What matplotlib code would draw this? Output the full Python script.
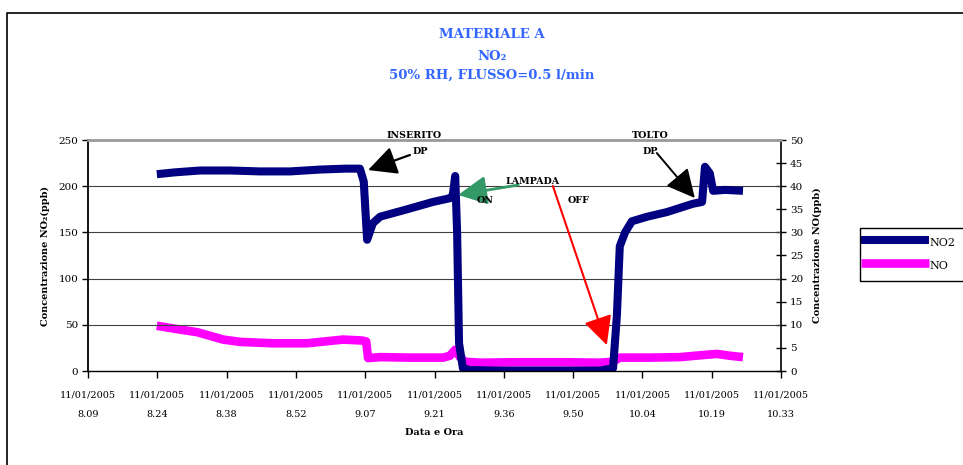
import matplotlib
matplotlib.use("Agg")
import numpy as np
import matplotlib.pyplot as plt
from matplotlib.lines import Line2D
from matplotlib.patches import Rectangle

# Time axis: minutes elapsed since 11/01/2005 8.09
tick_labels = ["11/01/2005\n8.09", "11/01/2005\n8.24", "11/01/2005\n8.38",
               "11/01/2005\n8.52", "11/01/2005\n9.07", "11/01/2005\n9.21",
               "11/01/2005\n9.36", "11/01/2005\n9.50", "11/01/2005\n10.04",
               "11/01/2005\n10.19", "11/01/2005\n10.33"]
span_minutes = 144

# NO2 concentration (ppb, left axis)
no2_minutes = [14.3, 18.1, 23.3, 29.5, 35.7, 42.0, 48.2, 53.4, 56.5, 57.3,
               58.0, 59.2, 60.7, 66.3, 71.7, 75.2, 75.8, 76.3, 76.7, 77.1,
               77.9, 79.4, 85.6, 96.0, 106.4, 109.1, 109.9, 110.5, 111.6,
               113.0, 116.2, 120.3, 125.7, 127.6, 128.2, 129.2, 129.9, 132.4,
               136.1]
no2_ppb = [213, 215, 217, 217, 216, 216, 218, 219, 219, 205,
           142, 160, 167, 175, 183, 187, 190, 211, 150, 30,
           3, 1, 0.5, 0.5, 0.5, 3, 60, 135, 150,
           162, 167, 172, 181, 183, 221, 214, 195, 196,
           195]

# NO concentration (ppb, right axis)
no_minutes = [14.3, 17.7, 22.7, 28.1, 31.6, 38.4, 45.5, 53.0, 56.9, 57.8,
              58.2, 60.7, 66.9, 73.8, 75.2, 76.3, 77.3, 78.3, 81.5, 89.8,
              98.1, 106.4, 109.1, 110.5, 116.8, 123.0, 127.2, 130.7, 133.4,
              136.1]
no_ppb = [9.8, 9.2, 8.4, 6.8, 6.3, 6.0, 6.0, 6.8, 6.6, 6.4,
          2.8, 3.0, 2.9, 2.9, 3.3, 4.6, 3.0, 2.0, 1.8, 1.9,
          1.9, 1.8, 2.0, 2.9, 2.9, 3.0, 3.4, 3.7, 3.3,
          3.0]

NAVY = "#000080"
MAGENTA = "#ff00ff"
SERIF = ["DejaVu Serif", "DejaVu Sans"]
plt.rcParams["font.family"] = SERIF

W, H = 963, 465
fig = plt.figure(figsize=(W / 100, H / 100), dpi=100)
fig.patch.set_facecolor("white")

# chart-area frame (top and left edges)
fig.add_artist(Line2D([7 / W, 7 / W, 1.0], [0.0, 1 - 13 / H, 1 - 13 / H],
                      color="black", lw=1.2, transform=fig.transFigure))

ax = fig.add_axes([88 / W, 94 / H, 693 / W, 231 / H])
ax2 = ax.twinx()

# left axis: NO2
ax.set_xlim(0, span_minutes)
ax.set_ylim(0, 250)
ax.set_yticks(np.arange(0, 251, 50))
ax.set_xticks(np.linspace(0, span_minutes, len(tick_labels)))
ax.set_xticklabels(tick_labels)
for lbl in ax.get_xticklabels():
    lbl.set_linespacing(2.55)
ax.tick_params(axis="x", direction="out", length=5, width=1, labelsize=7, pad=9)
ax.tick_params(axis="y", direction="out", length=4, width=1, labelsize=7.5, pad=3)
for y in [50, 100, 150, 200]:
    ax.axhline(y, color="#404040", lw=0.8, zorder=0.5)
ax.spines["top"].set_color("#999999")
ax.spines["top"].set_linewidth(2)
ax.spines["left"].set_linewidth(1.3)
ax.spines["bottom"].set_linewidth(1.0)
ax.spines["right"].set_visible(False)

# right axis: NO
ax2.set_ylim(0, 50)
ax2.set_yticks(np.arange(0, 51, 5))
ax2.tick_params(axis="y", direction="inout", length=7, width=1, labelsize=7.5, pad=3)
ax2.spines["right"].set_linewidth(1.2)
ax2.spines["top"].set_visible(False)
ax2.spines["left"].set_visible(False)
ax2.spines["bottom"].set_visible(False)

(no_line,) = ax2.plot(no_minutes, no_ppb, color=MAGENTA, lw=6.2,
                      solid_joinstyle="round", solid_capstyle="butt", label="NO")
(no2_line,) = ax.plot(no2_minutes, no2_ppb, color=NAVY, lw=5.8,
                      solid_joinstyle="round", solid_capstyle="butt", label="NO2")

# NO2 drawn above NO
ax.set_zorder(ax2.get_zorder() + 1)
ax.patch.set_visible(False)

lab_kw = dict(fontsize=7, fontweight="bold", family=SERIF)
ax.set_ylabel("Concentrazione NO\u2082(ppb)", labelpad=6, **lab_kw)
ax2.set_ylabel("Concentrazione NO(ppb)", labelpad=7, **lab_kw)
ax.set_xlabel("Data e Ora", labelpad=6, **lab_kw)

# arrows (drawn first so that the callout text sits on top)
def arrow(tail, tip, color, lw):
    ax.annotate("", xy=tip, xytext=tail, annotation_clip=False, zorder=4,
                arrowprops=dict(arrowstyle="-|>,head_length=0.4,head_width=0.2",
                                mutation_scale=44, color=color, lw=lw,
                                shrinkA=0, shrinkB=0))

arrow((66.9, 233.8), (58.2, 217.5), "black", 1.6)
arrow((89.4, 201.3), (76.9, 190.5), "#339966", 2.0)
arrow((96.6, 200.2), (107.8, 28.1), "#ff0000", 1.5)
arrow((118.2, 235.9), (126.1, 187.2), "black", 1.4)

# callout text
txt_kw = dict(fontsize=6.8, fontweight="bold", ha="center", va="center",
              annotation_clip=False, zorder=5)
ax.annotate("INSERITO", xy=(67.7, 254.6), **txt_kw)
ax.annotate("DP", xy=(69.1, 237.7), **txt_kw)
ax.annotate("LAMPADA", xy=(92.4, 205.6), **txt_kw)
ax.annotate("ON", xy=(82.5, 184.0), **txt_kw)
ax.annotate("OFF", xy=(102.0, 184.0), **txt_kw)
ax.annotate("TOLTO", xy=(116.8, 254.6), **txt_kw)
ax.annotate("DP", xy=(116.8, 237.7), **txt_kw)

# title
title_kw = dict(color="#3366ff", fontsize=9.5, fontweight="bold", ha="center",
                va="center", family=SERIF)
fig.text(492 / W, 1 - 35 / H, "MATERIALE A", **title_kw)
fig.text(492 / W, 1 - 56 / H, "NO\u2082", **title_kw)
fig.text(492 / W, 1 - 75 / H, "50% RH, FLUSSO=0.5 l/min", **title_kw)

# legend
fig.add_artist(Rectangle((860 / W, 1 - 281 / H), 120 / W, 53 / H,
                         transform=fig.transFigure, facecolor="white",
                         edgecolor="black", lw=1, clip_on=False))
for line, y_px in [(no2_line, 240), (no_line, 263)]:
    fig.add_artist(Line2D([861 / W, 929 / W], [1 - y_px / H] * 2,
                          color=line.get_color(), lw=line.get_linewidth(),
                          solid_capstyle="butt", transform=fig.transFigure))
    fig.text(929 / W, 1 - (y_px + 3) / H, line.get_label(), fontsize=8,
             va="center", ha="left", family=SERIF)

fig.savefig("out.png", dpi=100)
